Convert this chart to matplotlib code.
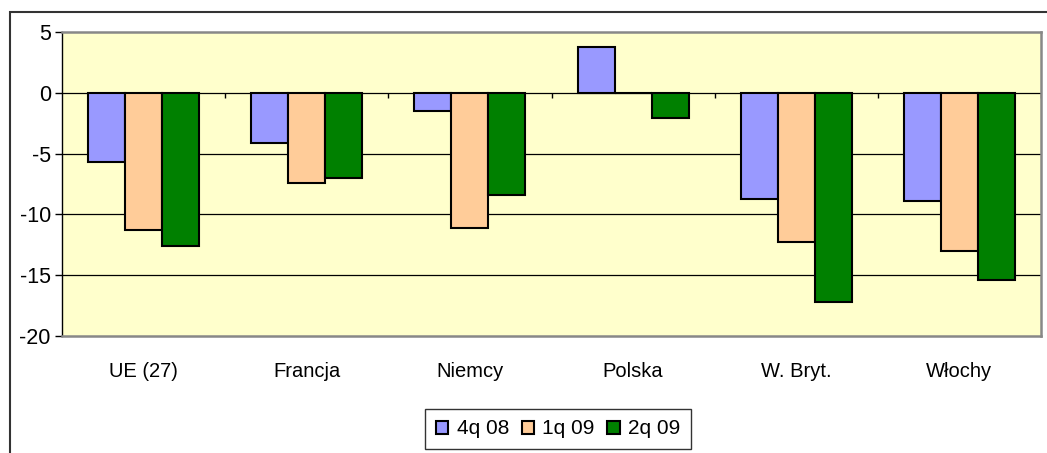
import numpy as np
import matplotlib.pyplot as plt
from matplotlib.patches import Rectangle

# dane
kraje = ['UE (27)', 'Francja', 'Niemcy', 'Polska', 'W. Bryt.', 'Włochy']
serie = ['4q 08', '1q 09', '2q 09']
q4_08 = [-5.7, -4.1, -1.5, 3.8, -8.7, -8.9]
q1_09 = [-11.3, -7.4, -11.1, 0.0, -12.3, -13.0]
q2_09 = [-12.6, -7.0, -8.4, -2.1, -17.2, -15.4]
kolory = ['#9999FF', '#FFCC99', '#008000']
y_ticks = [5, 0, -5, -10, -15, -20]

plt.rcParams['font.family'] = ['Liberation Sans', 'DejaVu Sans']

fig = plt.figure(figsize=(10.47, 4.53), dpi=100)
ax = fig.add_axes([0.0592, 0.2583, 0.9351, 0.6711])
ax.set_facecolor('#FFFFCC')

# ramka calego wykresu (wychodzi poza krawedz obrazka)
fig.patches.append(Rectangle((0.0096, -0.05), 1.1, 0.9735 + 0.05, transform=fig.transFigure,
                             fill=False, edgecolor='#333333', linewidth=1.5, clip_on=False))

x = np.arange(len(kraje))
w = 0.227
for i, (vals, lab) in enumerate(zip([q4_08, q1_09, q2_09], serie)):
    ax.bar(x + (i - 1) * w, vals, w, color=kolory[i], edgecolor='black', linewidth=1.5,
           label=lab, zorder=3)

ax.set_xlim(-0.5, len(kraje) - 0.5)
ax.set_ylim(-20, 5)
ax.set_yticks(y_ticks)
ax.set_yticklabels([str(v) for v in y_ticks], fontsize=15.5)
for v in [0, -5, -10, -15]:
    ax.axhline(v, color='black', linewidth=0.9, zorder=1)

# znaczniki kategorii na osi zero
ax.vlines(np.arange(0.5, len(kraje)), -0.4, 0, color='black', linewidth=1, zorder=2)

ax.set_xticks(x)
ax.set_xticklabels(kraje, fontsize=14.5)
ax.tick_params(axis='x', length=0, pad=19)
ax.tick_params(axis='y', length=5, width=1, pad=3)

for s in ['top', 'right', 'bottom']:
    ax.spines[s].set_color('#888888')
    ax.spines[s].set_linewidth(1.8)
ax.spines['left'].set_color('black')
ax.spines['left'].set_linewidth(1)

leg = fig.legend(loc='center', bbox_to_anchor=(0.533, 0.053), ncol=3, fontsize=15,
                 frameon=True, fancybox=False, edgecolor='black', handlelength=0.6,
                 handleheight=0.6, handletextpad=0.4, columnspacing=0.6,
                 borderpad=0.5)
leg.get_frame().set_linewidth(1)

plt.savefig('out.png', dpi=100)
